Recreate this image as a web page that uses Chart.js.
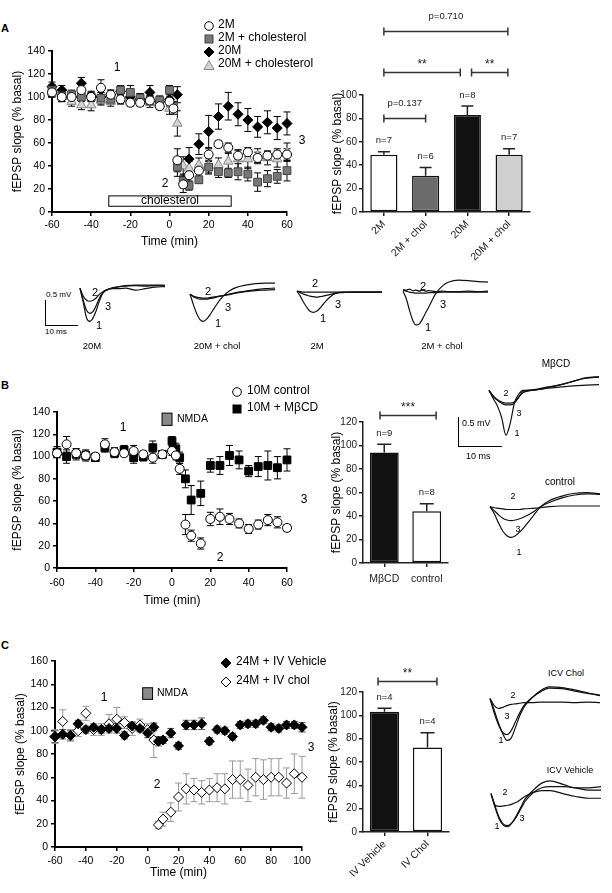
<!DOCTYPE html>
<html>
<head>
<meta charset="utf-8">
<title>fEPSP slope</title>
<script src="https://cdn.jsdelivr.net/npm/chart.js@4.4.1/dist/chart.umd.min.js"></script>
<style>
  body { margin: 0; background: #fff; }
  #fig { position: relative; width: 612px; height: 893px; overflow: hidden; font-family: 'Liberation Sans', Arial, sans-serif; color: #000; }
  #fig canvas { position: absolute; }
  .t { position: absolute; white-space: nowrap; line-height: 1; }
  .sym { position: absolute; }
  .ln { position: absolute; border-color: #000; border-style: solid; border-width: 0; }
</style>
</head>
<body>
<div id="fig"></div>
<script>
// ---------- panel A : time course ----------
const timeA = [-60, -55, -50, -45, -40, -35, -30, -25, -20, -15, -10, -5, 0, 2, 4, 7, 10, 15, 20, 25, 30, 35, 40, 45, 50, 55, 60];
const a2M = [104, 100, 100, 106, 100, 108, 102, 98, 95, 95, 97, 92, 96, 90, 45, 24, 32, 36, 50, 59, 56, 49, 52, 47, 49, 50, 50];
const a2MErr = [4, 4, 4, 5, 4, 7, 4, 4, 3, 3, 4, 3, 4, 5, 10, 7, 6, 5, 5, 3, 4, 5, 4, 5, 4, 5, 5];
const a2MChol = [106, 101, 102, 100, 100, 99, 98, 106, 104, 99, 97, 97, 106, 92, 39, 27, 23, 28, 39, 35, 34, 35, 33, 26, 29, 31, 36];
const a2MCholErr = [5, 5, 4, 4, 4, 5, 4, 4, 6, 4, 4, 4, 4, 4, 8, 6, 4, 3, 5, 5, 4, 7, 6, 8, 7, 6, 9];
const a20M = [109, 106, 100, 112, 101, 100, 102, 105, 100, 98, 104, 96, 98, null, 102, null, 46, 59, 70, 83, 92, 85, 80, 74, 78, 73, 77];
const a20MErr = [4, 4, 4, 5, 4, 4, 4, 4, 4, 5, 6, 4, 4, null, 7, null, 10, 9, 14, 11, 12, 10, 10, 9, 10, 10, 10];
const a20MChol = [104, 100, 96, 93, 93, 97, 96, 98, 99, 97, 95, 94, 90, null, 77, 40, 38, 41, 40, 41, 44, 46, 46, 49, 47, 46, 52];
const a20MCholErr = [4, 4, 4, 4, 5, 4, 4, 4, 4, 4, 4, 4, 5, null, 11, 8, 6, 6, 7, 6, 7, 8, 8, 6, 6, 7, 8];

// ---------- panel A : bars ----------
const barALabels = ['2M', '2M + chol', '20M', '20M + chol'];
const barAVals = [49, 31, 83, 49];
const barAErr = [2.5, 7, 7.5, 5];
const barAN = ['n=7', 'n=6', 'n=8', 'n=7'];

// ---------- panel B ----------
const timeB = [-60, -55, -50, -45, -40, -35, -30, -25, -20, -15, -10, -5, 0, 2, 4, 7, 10, 15, 20, 25, 30, 35, 40, 45, 50, 55, 60];
const bControl = [103, 111, 103, 101, 100, 111, 104, 103, 105, 102, 99, 102, 105, 101, 89, 39, 29, 22, 44, 46, 44, 40, 35, 39, 43, 41, 36];
const bControlErr = [4, 7, 4, 4, 3, 5, 4, 3, 5, 3, 5, 3, 4, 4, 5, 9, 5, 5, 6, 7, 5, 4, 4, 4, 5, 5, 3];
const bMbcd = [104, 100, 102, 101, 99, 108, 103, 106, 99, 100, 108, 102, 114, 107, 99, 80, 61, 67, 92, 92, 101, 97, 87, 91, 92, 90, 97];
const bMbcdErr = [5, 6, 5, 5, 3, 4, 4, 4, 5, 4, 6, 3, 4, 5, 5, 8, 13, 11, 6, 8, 9, 8, 5, 9, 13, 10, 10];

const barBLabels = ['M\u03B2CD', 'control'];
const barBVals = [94, 44];
const barBErr = [7, 6.5];
const barBN = ['n=9', 'n=8'];

// ---------- panel C ----------
const timeC = [-60, -55, -50, -45, -40, -35, -30, -25, -20, -15, -10, -5, 0, 4, 7, 10, 15, 20, 25, 30, 35, 40, 45, 50, 55, 60, 65, 70, 75, 80, 85, 90, 95, 100];
const cVehicle = [95, 97, 96, 106, 101, 103, 101, 102, 102, 96, 104, 102, 98, 103, 91, 92, 98, 87, 105, 105, 106, 91, 101, 100, 95, 105, 106, 106, 109, 103, 102, 105, 105, 103];
const cVehicleErr = [5, 4, 4, 3, 3, 3, 3, 3, 4, 3, 3, 3, 4, 3, 4, 3, 4, 3, 4, 4, 5, 3, 3, 3, 3, 3, 3, 3, 3, 3, 3, 3, 3, 4];
const cChol = [95, 108, 96, 100, 115, 101, 101, 106, 110, 107, 102, 105, 101, 92, 19, 24, 30, 43, 50, 49, 47, 49, 51, 50, 58, 58, 53, 60, 58, 60, 60, 55, 63, 60];
const cCholErr = [6, 10, 5, 5, 6, 5, 5, 8, 10, 5, 6, 5, 5, 15, 3, 6, 8, 12, 13, 10, 10, 10, 12, 13, 16, 16, 14, 16, 17, 16, 16, 13, 17, 18];

const barCLabels = ['IV Vehicle', 'IV Chol'];
const barCVals = [103, 72.5];
const barCErr = [3, 12.5];
const barCN = ['n=4', 'n=4'];

// ---------- example traces (mV, time in ms) ----------
const traceT = [0, 1, 2, 3, 4, 5, 6, 7, 8, 10, 12, 14, 17, 20, 23, 26];
const tr20M_1 = [0.04, -0.25, -0.55, -0.62, -0.55, -0.4, -0.2, -0.06, 0.0, 0.05, 0.07, 0.08, 0.09, 0.08, 0.09, 0.08];
const tr20M_2 = [0.04, -0.12, -0.2, -0.22, -0.2, -0.15, -0.08, -0.03, 0.0, 0.04, 0.07, 0.09, 0.1, 0.1, 0.1, 0.1];
const tr20M_3 = [0.04, -0.2, -0.4, -0.46, -0.42, -0.3, -0.15, -0.05, 0.0, 0.03, 0.03, 0.04, 0.0, 0.03, 0.06, 0.07];
const tr20C_1 = [0, -0.2, -0.38, -0.5, -0.54, -0.5, -0.42, -0.32, -0.22, -0.05, 0.06, 0.13, 0.18, 0.21, 0.22, 0.22];
const tr20C_2 = [0, -0.04, -0.06, -0.07, -0.08, -0.08, -0.07, -0.06, -0.05, -0.03, -0.01, 0.02, 0.05, 0.07, 0.08, 0.09];
const tr20C_3 = [0, -0.05, -0.08, -0.1, -0.1, -0.1, -0.09, -0.08, -0.06, -0.03, 0.0, 0.03, 0.06, 0.09, 0.11, 0.12];
const tr2M_1 = [0, -0.1, -0.22, -0.32, -0.4, -0.42, -0.4, -0.34, -0.26, -0.12, -0.04, -0.02, -0.02, -0.02, -0.02, -0.02];
const tr2M_2 = [0, -0.01, -0.02, -0.02, -0.02, -0.02, -0.02, -0.02, -0.02, -0.02, -0.02, -0.02, -0.02, -0.02, -0.02, -0.02];
const tr2M_3 = [0, -0.03, -0.06, -0.08, -0.1, -0.11, -0.12, -0.11, -0.1, -0.07, -0.04, -0.03, -0.02, -0.02, -0.02, -0.02];
const tr2C_1 = [0, -0.15, -0.38, -0.58, -0.67, -0.65, -0.55, -0.42, -0.3, -0.05, 0.1, 0.18, 0.22, 0.21, 0.19, 0.18];
const tr2C_2 = [0.03, 0.02, 0.04, 0.01, 0.02, 0.0, 0.02, 0.0, 0.01, -0.01, 0.0, -0.01, -0.01, 0.0, -0.01, 0.0];
const tr2C_3 = [0.02, 0.0, -0.02, -0.03, -0.04, -0.04, -0.04, -0.04, -0.03, -0.03, -0.02, -0.02, -0.02, -0.02, -0.02, -0.02];
const trMb_1 = [0.02, -0.12, -0.25, -0.45, -0.75, -0.55, -0.2, -0.05, 0.02, 0.02, 0.04, 0.07, 0.12, 0.18, 0.24, 0.26];
const trMb_2 = [0.02, -0.08, -0.14, -0.18, -0.2, -0.2, -0.18, -0.1, -0.02, 0.02, 0.04, 0.06, 0.08, 0.1, 0.11, 0.12];
const trMb_3 = [0.02, -0.08, -0.15, -0.2, -0.23, -0.23, -0.2, -0.1, 0.0, 0.03, 0.05, 0.08, 0.12, 0.18, 0.23, 0.25];
const trCt_1 = [0, -0.12, -0.28, -0.42, -0.5, -0.53, -0.5, -0.44, -0.36, -0.18, 0.0, 0.1, 0.18, 0.23, 0.24, 0.22];
const trCt_2 = [0, -0.02, -0.03, -0.04, -0.05, -0.05, -0.05, -0.05, -0.04, -0.03, -0.02, 0.0, 0.01, 0.01, 0.01, 0.01];
const trCt_3 = [0, -0.07, -0.14, -0.2, -0.23, -0.24, -0.23, -0.21, -0.18, -0.1, 0.0, 0.07, 0.15, 0.2, 0.22, 0.21];
const trIc_1 = [0, -0.2, -0.42, -0.6, -0.72, -0.68, -0.5, -0.3, -0.15, 0.02, 0.14, 0.2, 0.19, 0.15, 0.1, 0.06];
const trIc_2 = [0, -0.12, -0.17, -0.15, -0.12, -0.1, -0.09, -0.08, -0.07, -0.07, -0.06, -0.06, -0.06, -0.07, -0.06, -0.07];
const trIc_3 = [0, -0.25, -0.45, -0.58, -0.62, -0.55, -0.4, -0.25, -0.12, 0.02, 0.12, 0.18, 0.17, 0.13, 0.09, 0.05];
const trIv_1 = [0, -0.25, -0.45, -0.55, -0.57, -0.5, -0.38, -0.24, -0.1, 0.06, 0.18, 0.22, 0.16, 0.1, 0.1, 0.12];
const trIv_2 = [0, -0.2, -0.22, -0.21, -0.2, -0.18, -0.15, -0.1, -0.05, 0.02, 0.05, 0.05, 0.0, -0.05, -0.08, -0.08];
const trIv_3 = [0, -0.22, -0.42, -0.53, -0.55, -0.5, -0.4, -0.27, -0.14, 0.02, 0.1, 0.12, 0.12, 0.1, 0.06, 0.06];

// ---------- setup ----------
Chart.defaults.font.family = "'Liberation Sans', Arial, sans-serif";
Chart.defaults.color = '#000';
const fig = document.getElementById('fig');

function addCanvas(left, top, w, h) {
  const c = document.createElement('canvas');
  c.width = w; c.height = h;
  c.style.left = left + 'px'; c.style.top = top + 'px';
  c.style.width = w + 'px'; c.style.height = h + 'px';
  fig.appendChild(c);
  return c;
}

function label(str, x, y, size, opt = {}) {
  const d = document.createElement('div');
  d.className = 't';
  d.textContent = str;
  d.style.left = x + 'px'; d.style.top = y + 'px';
  d.style.fontSize = size + 'px';
  d.style.transform = opt.left ? 'translate(0,-50%)' : 'translate(-50%,-50%)';
  if (opt.bold) d.style.fontWeight = 'bold';
  fig.appendChild(d);
}

function line(x, y, w, h) {
  const d = document.createElement('div');
  d.className = 'ln';
  d.style.left = x + 'px'; d.style.top = y + 'px';
  if (w) { d.style.width = w + 'px'; d.style.borderTopWidth = '1px'; }
  else { d.style.height = h + 'px'; d.style.borderLeftWidth = '1px'; }
  fig.appendChild(d);
}

function sym(shape, fill, stroke, x, y) {
  const s = 12, h = 6;
  let el;
  if (shape === 'circle') el = `<circle cx="${h}" cy="${h}" r="4.3"/>`;
  else if (shape === 'square') el = `<rect x="2" y="2" width="8" height="8"/>`;
  else if (shape === 'diamond') el = `<polygon points="6,1 11,6 6,11 1,6"/>`;
  else el = `<polygon points="6,1.5 11,10.5 1,10.5"/>`;
  const d = document.createElement('div');
  d.className = 'sym';
  d.style.left = (x - h) + 'px'; d.style.top = (y - h) + 'px';
  d.innerHTML = `<svg width="${s}" height="${s}" fill="${fill}" stroke="${stroke}" stroke-width="1">${el}</svg>`;
  fig.appendChild(d);
}

// error bars: both ways on time courses, upward on bars (+ n labels)
const errorBars = {
  id: 'errorBars',
  beforeDatasetsDraw(chart) {
    if (chart.config.type !== 'scatter') return;
    const { ctx, scales: { x, y } } = chart;
    chart.data.datasets.forEach(ds => {
      if (!ds.err) return;
      ctx.save();
      ctx.strokeStyle = ds.errColor || '#000';
      ctx.lineWidth = 1;
      ds.data.forEach((p, i) => {
        const e = ds.err[i];
        if (p.y == null || e == null) return;
        const px = x.getPixelForValue(p.x), t = y.getPixelForValue(p.y + e), b = y.getPixelForValue(p.y - e);
        ctx.beginPath();
        ctx.moveTo(px, t); ctx.lineTo(px, b);
        ctx.moveTo(px - 3.5, t); ctx.lineTo(px + 3.5, t);
        ctx.moveTo(px - 3.5, b); ctx.lineTo(px + 3.5, b);
        ctx.stroke();
      });
      ctx.restore();
    });
  },
  afterDatasetsDraw(chart) {
    if (chart.config.type !== 'bar') return;
    const { ctx, scales: { x, y } } = chart;
    const ds = chart.data.datasets[0];
    ctx.save();
    ctx.strokeStyle = '#222';
    ctx.lineWidth = 1.5;
    ctx.fillStyle = '#222';
    ctx.font = "9.5px 'Liberation Sans', Arial, sans-serif";
    ctx.textAlign = 'center';
    ctx.textBaseline = 'middle';
    ds.data.forEach((v, i) => {
      const px = x.getPixelForValue(i), t0 = y.getPixelForValue(v), t1 = y.getPixelForValue(v + ds.err[i]);
      const cap = ds.capWidth / 2;
      ctx.beginPath();
      ctx.moveTo(px, t0); ctx.lineTo(px, t1);
      ctx.moveTo(px - cap, t1); ctx.lineTo(px + cap, t1);
      ctx.stroke();
      ctx.fillText(ds.nLabels[i], px, t1 - 11);
    });
    ctx.restore();
  }
};

// treatment boxes drawn in data coordinates
const boxes = {
  id: 'boxes',
  afterDatasetsDraw(chart, args, opts) {
    if (!opts.items) return;
    const { ctx, scales: { x, y } } = chart;
    opts.items.forEach(b => {
      const x0 = x.getPixelForValue(b.x0), x1 = x.getPixelForValue(b.x1);
      const y0 = y.getPixelForValue(b.y1), y1 = y.getPixelForValue(b.y0);
      ctx.save();
      ctx.fillStyle = b.fill;
      ctx.strokeStyle = '#000';
      ctx.lineWidth = 1;
      ctx.fillRect(x0, y0, x1 - x0, y1 - y0);
      ctx.strokeRect(x0, y0, x1 - x0, y1 - y0);
      if (b.text) {
        ctx.fillStyle = '#000';
        ctx.font = "12px 'Liberation Sans', Arial, sans-serif";
        ctx.textAlign = 'center';
        ctx.textBaseline = 'middle';
        ctx.fillText(b.text, (x0 + x1) / 2, (y0 + y1) / 2);
      }
      ctx.restore();
    });
  }
};

// significance brackets over bar charts
const brackets = {
  id: 'brackets',
  afterDraw(chart, args, opts) {
    if (!opts.items) return;
    const { ctx, scales: { x, y } } = chart;
    ctx.save();
    ctx.strokeStyle = '#333';
    ctx.fillStyle = '#222';
    ctx.lineWidth = 1.5;
    ctx.textAlign = 'center';
    ctx.textBaseline = 'middle';
    opts.items.forEach(b => {
      const x0 = x.getPixelForValue(b.from), x1 = x.getPixelForValue(b.to), py = Math.round(y.getPixelForValue(b.level)) + 0.5;
      ctx.beginPath();
      ctx.moveTo(x0, py); ctx.lineTo(x1, py);
      ctx.moveTo(x0, py - 4); ctx.lineTo(x0, py + 4);
      ctx.moveTo(x1, py - 4); ctx.lineTo(x1, py + 4);
      ctx.stroke();
      ctx.font = (b.stars ? '12px' : '9.5px') + " 'Liberation Sans', Arial, sans-serif";
      ctx.fillText(b.text, (x0 + x1) / 2, py - b.gap);
    });
    ctx.restore();
  }
};

Chart.register(errorBars, boxes, brackets);

function series(times, vals, errs, style) {
  return Object.assign({ data: times.map((t, i) => ({ x: t, y: vals[i] })), err: errs, clip: false, borderWidth: 1 }, style);
}

function timeCourse(box, area, xr, yr, step, sets, o) {
  const c = addCanvas(box.left, box.top, box.w, box.h);
  return new Chart(c, {
    type: 'scatter',
    data: { datasets: sets },
    options: {
      responsive: false, animation: false, devicePixelRatio: 1,
      layout: { padding: { left: 0, top: area.t - box.top, right: box.left + box.w - area.r, bottom: 0 } },
      plugins: { legend: { display: false }, tooltip: { enabled: false }, boxes: { items: o.boxes } },
      scales: {
        x: {
          type: 'linear', min: xr[0], max: xr[1],
          ticks: { stepSize: 20, font: { size: 10.5 }, padding: o.xPad, color: '#000' },
          grid: { drawOnChartArea: false, tickLength: 4, color: '#000', lineWidth: 1.5 },
          border: { color: '#000', width: 2 },
          title: { display: true, text: 'Time (min)', font: { size: 12 }, padding: { top: 0, bottom: o.xTitle } },
          afterFit: s => { s.height = box.top + box.h - area.b; }
        },
        y: {
          min: yr[0], max: yr[1],
          ticks: { stepSize: step, font: { size: 10.5 }, padding: 3, color: '#000' },
          grid: { drawOnChartArea: false, tickLength: 4, color: '#000', lineWidth: 1.5 },
          border: { color: '#000', width: 2 },
          title: { display: true, text: 'fEPSP slope (% basal)', font: { size: 12 }, padding: { top: o.yTitle, bottom: 0 } },
          afterFit: s => { s.width = area.l - box.left; }
        }
      }
    }
  });
}

function barChart(box, area, labels, vals, errs, ns, colors, yMax, rot, o) {
  const c = addCanvas(box.left, box.top, box.w, box.h);
  return new Chart(c, {
    type: 'bar',
    data: {
      labels,
      datasets: [{
        data: vals, err: errs, nLabels: ns, capWidth: o.cap,
        backgroundColor: colors, borderColor: '#111', borderWidth: 1.5, borderSkipped: false,
        barPercentage: o.barPct, categoryPercentage: 1
      }]
    },
    options: {
      responsive: false, animation: false, devicePixelRatio: 1,
      layout: { padding: { left: 0, top: area.t - box.top, right: box.left + box.w - area.r, bottom: 0 } },
      plugins: { legend: { display: false }, tooltip: { enabled: false }, brackets: { items: o.brackets } },
      scales: {
        x: {
          grid: { offset: false, drawOnChartArea: false, tickLength: 4, color: '#222', lineWidth: 1.5 },
          border: { color: '#222', width: 1.5 },
          ticks: { font: { size: 10.5 }, color: '#222', minRotation: rot, maxRotation: rot, padding: o.xPad, autoSkip: false },
          afterFit: s => { s.height = box.top + box.h - area.b; }
        },
        y: {
          min: 0, max: yMax,
          ticks: { stepSize: 20, font: { size: 10 }, color: '#222', padding: 2 },
          grid: { drawOnChartArea: false, tickLength: 4, color: '#222', lineWidth: 1.5 },
          border: { color: '#222', width: 1.5 },
          title: { display: true, text: 'fEPSP slope (% basal)', font: { size: 12 }, padding: { top: o.yTitle, bottom: 0 } },
          afterFit: s => { s.width = area.l - box.left; }
        }
      }
    }
  });
}

function traces(left, baseline, width, ppm, sets) {
  const yMin = -0.85, yMax = 0.32;
  const h = Math.round((yMax - yMin) * ppm);
  const c = addCanvas(left - 2, Math.round(baseline - yMax * ppm) - 2, width + 4, h + 4);
  return new Chart(c, {
    type: 'line',
    data: { datasets: sets.map(v => ({ data: traceT.map((t, i) => ({ x: t, y: v[i] })), borderColor: '#111', borderWidth: 1.2, pointRadius: 0, cubicInterpolationMode: 'monotone', clip: false })) },
    options: {
      responsive: false, animation: false, devicePixelRatio: 1,
      layout: { padding: 2 },
      plugins: { legend: { display: false }, tooltip: { enabled: false } },
      scales: { x: { type: 'linear', min: 0, max: 26, display: false }, y: { min: yMin, max: yMax, display: false } }
    }
  });
}

// ---------- panel A ----------
label('A', 5, 28, 11, { bold: true });
timeCourse({ left: 0, top: 30, w: 320, h: 225 }, { l: 52, t: 51, r: 287, b: 212 }, [-60, 60], [0, 140], 20, [
  series(timeA, a2M, a2MErr, { pointStyle: 'circle', pointRadius: 4.5, backgroundColor: '#fff', borderColor: '#000' }),
  series(timeA, a2MChol, a2MCholErr, { pointStyle: 'rect', pointRadius: 5.5, backgroundColor: '#777', borderColor: '#444' }),
  series(timeA, a20M, a20MErr, { pointStyle: 'rectRot', pointRadius: 5, backgroundColor: '#000', borderColor: '#000' }),
  series(timeA, a20MChol, a20MCholErr, { pointStyle: 'triangle', pointRadius: 5.5, backgroundColor: '#d4d4d4', borderColor: '#888' })
], { xPad: 3, xTitle: 6, yTitle: 10.8, boxes: [{ x0: -31, x1: 31.5, y0: 5, y1: 14, fill: '#fff', text: 'cholesterol' }] });

sym('circle', '#fff', '#000', 209, 24); label('2M', 218, 24, 12, { left: true });
sym('square', '#777', '#444', 209, 37); label('2M + cholesterol', 218, 37, 12, { left: true });
sym('diamond', '#000', '#000', 209, 50); label('20M', 218, 50, 12, { left: true });
sym('triangle', '#d4d4d4', '#888', 209, 63); label('20M + cholesterol', 218, 63, 12, { left: true });
label('1', 117, 67, 12); label('2', 165, 183, 12); label('3', 302, 140, 12);

barChart({ left: 326, top: 0, w: 209, h: 275 }, { l: 363, t: 95, r: 530, b: 212 }, barALabels, barAVals, barAErr, barAN,
  ['#fff', '#6b6b6b', '#111', '#d0d0d0'], 100, 45, {
    barPct: 0.65, cap: 12, xPad: 2, yTitle: 4.8,
    brackets: [
      { from: 0, to: 1, level: 80.3, text: 'p=0.137', gap: 15 },
      { from: 0, to: 1.83, level: 119.6, text: '**', gap: 8, stars: true },
      { from: 2.1, to: 2.97, level: 119.6, text: '**', gap: 8, stars: true },
      { from: 0, to: 2.97, level: 154.7, text: 'p=0.710', gap: 15 }
    ]
  });

// traces A
traces(80, 290, 85, 50, [tr20M_1, tr20M_2, tr20M_3]);
traces(190, 294, 85, 50, [tr20C_1, tr20C_2, tr20C_3]);
traces(297, 291, 85, 50, [tr2M_1, tr2M_2, tr2M_3]);
traces(403, 291, 85, 50, [tr2C_1, tr2C_2, tr2C_3]);
line(45, 300, 0, 25); line(45, 325, 33, 0);
label('0.5 mV', 46, 295, 8, { left: true }); label('10 ms', 45, 332, 8, { left: true });
label('2', 95, 292, 11); label('3', 108, 306, 11); label('1', 99, 325, 11);
label('2', 208, 291, 11); label('3', 228, 307, 11); label('1', 218, 323, 11);
label('2', 315, 283, 11); label('3', 338, 304, 11); label('1', 323, 318, 11);
label('2', 423, 286, 11); label('3', 443, 304, 11); label('1', 428, 327, 11);
label('20M', 92, 346, 9.5); label('20M + chol', 217, 346, 9.5); label('2M', 317, 346, 9.5); label('2M + chol', 442, 346, 9.5);

// ---------- panel B ----------
label('B', 5, 385, 11, { bold: true });
timeCourse({ left: 0, top: 395, w: 320, h: 222 }, { l: 57, t: 412, r: 287, b: 568 }, [-60, 60], [0, 140], 20, [
  series(timeB, bControl, bControlErr, { pointStyle: 'circle', pointRadius: 4.5, backgroundColor: '#fff', borderColor: '#000' }),
  series(timeB, bMbcd, bMbcdErr, { pointStyle: 'rect', pointRadius: 5.5, backgroundColor: '#000', borderColor: '#000' })
], { xPad: 5, xTitle: 9, yTitle: 10.8, boxes: [{ x0: -5.2, x1: 0, y0: 128, y1: 139, fill: '#8a8a8a' }] });
sym('circle', '#fff', '#000', 237, 390); label('10M control', 247, 390, 12, { left: true });
sym('square', '#000', '#000', 237, 407); label('10M + M\u03B2CD', 247, 407, 12, { left: true });
label('NMDA', 177, 418, 10.5, { left: true });
label('1', 123, 427, 12); label('2', 220, 557, 12); label('3', 304, 499, 12);

barChart({ left: 326, top: 380, w: 129, h: 215 }, { l: 363, t: 422, r: 448, b: 563 }, barBLabels, barBVals, barBErr, barBN,
  ['#111', '#fff'], 120, 0, {
    barPct: 0.68, cap: 14, xPad: 6, yTitle: 3.8,
    brackets: [{ from: -0.1, to: 1.22, level: 126, text: '***', gap: 8, stars: true }]
  });

traces(489, 392, 110, 58, [trMb_1, trMb_2, trMb_3]);
traces(490, 507, 110, 58, [trCt_1, trCt_2, trCt_3]);
line(458, 417, 0, 29); line(458, 446, 44, 0);
label('0.5 mV', 462, 423, 9, { left: true }); label('10 ms', 466, 456, 9, { left: true });
label('M\u03B2CD', 556, 364, 10); label('control', 560, 482, 10);
label('2', 506, 393, 9); label('3', 519, 413, 9); label('1', 517, 433, 9);
label('2', 513, 496, 9); label('3', 518, 529, 9); label('1', 519, 552, 9);

// ---------- panel C ----------
label('C', 5, 645, 11, { bold: true });
timeCourse({ left: 0, top: 645, w: 330, h: 248 }, { l: 55, t: 661, r: 302, b: 847 }, [-60, 100], [0, 160], 20, [
  series(timeC, cVehicle, cVehicleErr, { pointStyle: 'rectRot', pointRadius: 5, backgroundColor: '#000', borderColor: '#000', errColor: '#555' }),
  series(timeC, cChol, cCholErr, { pointStyle: 'rectRot', pointRadius: 5, backgroundColor: '#fff', borderColor: '#000', errColor: '#999' })
], { xPad: 4, xTitle: 12.8, yTitle: 13.8, boxes: [{ x0: -3.2, x1: 3.2, y0: 127, y1: 137, fill: '#8a8a8a' }] });
sym('diamond', '#000', '#000', 226, 661); label('24M + IV Vehicle', 236, 661, 12, { left: true });
sym('diamond', '#fff', '#000', 226, 680); label('24M + IV chol', 236, 680, 12, { left: true });
label('NMDA', 157, 692, 10.5, { left: true });
label('1', 104, 697, 12); label('2', 157, 784, 12); label('3', 311, 747, 12);

barChart({ left: 326, top: 650, w: 129, h: 243 }, { l: 363, t: 692, r: 449, b: 832 }, barCLabels, barCVals, barCErr, barCN,
  ['#111', '#fff'], 120, 45, {
    barPct: 0.68, cap: 14, xPad: 2, yTitle: 0.8,
    brackets: [{ from: -0.15, to: 1.22, level: 129.4, text: '**', gap: 8, stars: true }]
  });

traces(490, 699, 110, 58, [trIc_1, trIc_2, trIc_3]);
traces(491, 794, 110, 58, [trIv_1, trIv_2, trIv_3]);
label('ICV Chol', 566, 673, 9); label('ICV Vehicle', 570, 770, 9);
label('2', 513, 695, 9); label('3', 507, 716, 9); label('1', 501, 740, 9);
label('2', 505, 792, 9); label('1', 497, 826, 9); label('3', 522, 818, 9);
</script>
</body>
</html>
